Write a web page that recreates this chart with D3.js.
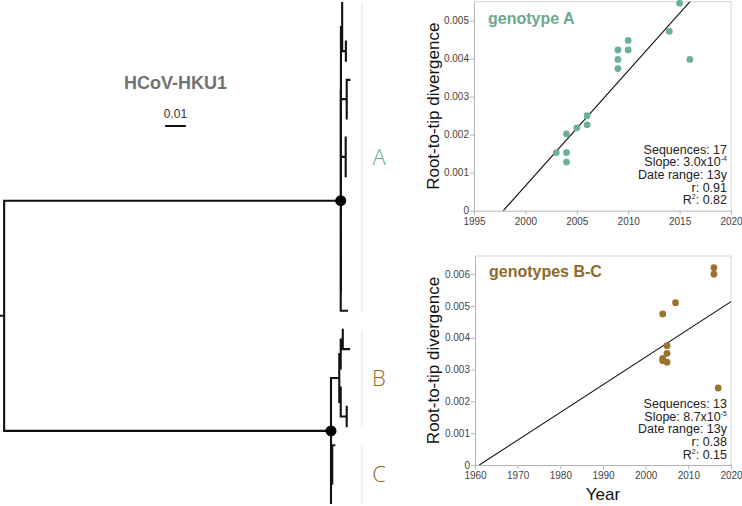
<!DOCTYPE html>
<html><head><meta charset="utf-8">
<script src="https://cdn.jsdelivr.net/npm/d3@7"></script>
<style>
html,body{margin:0;padding:0;background:#fff;}
svg{display:block;font-family:"Liberation Sans",Arial,sans-serif;}
</style></head>
<body>
<svg id="chart" width="742" height="506"></svg>
<script>
// ---------------- DATA ----------------
// Phylogeny (branch lengths in substitutions/site), Newick
const treeNewick =
 "((((t0:0,t1:0,(t2:0,t3:0):0.0018):0.0006,((t4:0.0013,t5:0,t6:0):0.0028,((t7:0,t8:0,t9:0):0.0023,((t10:0,t11:0,t12:0,t13:0,t14:0):0,t15:0):0):0):0):0.0001,t16:0.003):0.1626," +
 "((((t17:0,t18:0.003):0.001,t19:0):0.0007,(t20:0,(t21:0,t22:0):0.0029):0.0007):0.004,((t23:0.001,t24:0,t25:0):0.0006,t26:0):0):0.1579):0.002;";
const treeTitle = "HCoV-HKU1";
const scaleBarValue = 0.01;
const cladeNames = ["A", "B", "C"];
const cladeTipRanges = [[0, 16], [17, 22], [23, 26]];

// genotype A root-to-tip
const yearsA = [2003, 2004, 2004, 2004, 2005, 2006, 2006, 2009, 2009, 2009, 2010, 2010, 2014, 2015, 2016];
const divA   = [0.00153, 0.00202, 0.00153, 0.00128, 0.00218, 0.00250, 0.00226, 0.00423, 0.00398, 0.00374, 0.00448, 0.00423, 0.00472, 0.00546, 0.00398];
const regA = {xIntercept: 1997.85, slope: 3.03e-4};
const statsA = ["Sequences: 17", "Slope: 3.0x10|-4", "Date range: 13y", "r: 0.91", "R^2: 0.82"];
const xTicksA = [1995, 2000, 2005, 2010, 2015, 2020];
const yTicksA = [0, 0.001, 0.002, 0.003, 0.004, 0.005];

// genotypes B-C root-to-tip
const yearsBC = [2004, 2004, 2004, 2005, 2005, 2005, 2007, 2016, 2016, 2017];
const divBC   = [0.00475, 0.00335, 0.00328, 0.00375, 0.00351, 0.00323, 0.00510, 0.00620, 0.00600, 0.00242];
const regBC = {xIntercept: 1961, slope: 8.7e-5};
const statsBC = ["Sequences: 13", "Slope: 8.7x10|-5", "Date range: 13y", "r: 0.38", "R^2: 0.15"];
const xTicksBC = [1960, 1970, 1980, 1990, 2000, 2010, 2020];
const yTicksBC = [0, 0.001, 0.002, 0.003, 0.004, 0.005, 0.006];

// ---------------- STYLE ----------------
const colA = "#6cb09a", colAText = "#6aa990", colABar = "#e2eeea";
const colB = "#9a722c", colBText = "#8d6a2b", colBBar = "#efe9de";

const svg = d3.select("#chart");
svg.append("rect").attr("width", 742).attr("height", 506).attr("fill", "#fff");

// ---------------- TREE ----------------
function parseNewick(str) {
  const s = str.replace(/\s+/g, "");
  let i = 0;
  function node() {
    const n = {children: []};
    if (s[i] === "(") {
      i++;
      while (true) {
        n.children.push(node());
        if (s[i] === ",") { i++; continue; }
        break;
      }
      i++; // ')'
    }
    let name = "";
    while (i < s.length && !",):;".includes(s[i])) name += s[i++];
    n.name = name;
    if (s[i] === ":") {
      i++;
      let num = "";
      while (i < s.length && !",);".includes(s[i])) num += s[i++];
      n.length = +num;
    }
    if (!n.children.length) delete n.children;
    return n;
  }
  return node();
}
const root = d3.hierarchy(parseNewick(treeNewick));
root.eachBefore(d => d.div = (d.parent ? d.parent.div : 0) + (d.data.length || 0));
const leaves = root.leaves();
leaves.forEach((d, k) => d.idx = k);

const tx = d3.scaleLinear().domain([0, 0.17]).range([0, 351.9]);
const ty = d3.scaleLinear().domain([0, leaves.length - 1]).range([3, 503]);
root.eachAfter(d => {
  if (d.children) d.py = (d.children[0].py + d.children[d.children.length - 1].py) / 2;
  else d.py = ty(d.idx);
});

const gTree = svg.append("g");
let pathD = `M0,${root.py}H${tx(root.div)}`;
root.each(d => {
  if (d.parent) pathD += `M${tx(d.parent.div)},${d.py}H${tx(d.div)}`;
  if (d.children) pathD += `M${tx(d.div)},${d.children[0].py}V${d.children[d.children.length - 1].py}`;
});
gTree.append("path").attr("d", pathD).attr("fill", "none")
  .attr("stroke", "#111").attr("stroke-width", 2.1).attr("stroke-linecap", "square");
root.children.forEach(c => {
  gTree.append("circle").attr("cx", tx(c.div)).attr("cy", c.py).attr("r", 5.5).attr("fill", "#000");
});

gTree.append("text").attr("x", 175.5).attr("y", 89).attr("text-anchor", "middle")
  .attr("font-size", 18).attr("font-weight", "bold").attr("fill", "#727272").text(treeTitle);
gTree.append("text").attr("x", 175.5).attr("y", 118).attr("text-anchor", "middle")
  .attr("font-size", 12).attr("fill", "#333").text(String(scaleBarValue));
gTree.append("line").attr("x1", 175.5 - (tx(scaleBarValue) - tx(0)) / 2).attr("x2", 175.5 + (tx(scaleBarValue) - tx(0)) / 2)
  .attr("y1", 126).attr("y2", 126).attr("stroke", "#111").attr("stroke-width", 2);

// clade bars and letters
cladeNames.forEach((nm, k) => {
  const [a, b] = cladeTipRanges[k];
  const y0 = ty(a), y1 = ty(b);
  const isA = k === 0;
  gTree.append("line").attr("x1", 362).attr("x2", 362).attr("y1", y0).attr("y2", y1)
    .attr("stroke", isA ? colABar : colBBar).attr("stroke-width", 1.5);
  gTree.append("text").attr("x", 379).attr("y", (y0 + y1) / 2 + 8).attr("text-anchor", "middle")
    .attr("font-family", "'Open Sans',sans-serif").attr("font-weight", 300)
    .attr("font-size", 22).attr("fill", isA ? colAText : colBText).text(nm);
});

// ---------------- SCATTER PANELS ----------------
const fmtY = d => d === 0 ? "0" : d3.format(".3f")(d);

function panel(o) {
  const g = svg.append("g");
  const x = d3.scaleLinear().domain(o.xDomain).range([o.left, o.right]);
  const y = d3.scaleLinear().domain(o.yDomain).range([o.bottom, o.top]);
  // frame
  g.append("path").attr("d", `M${o.left},${o.top}H${o.right}V${o.bottom}`)
    .attr("fill", "none").attr("stroke", "#d4d4d4").attr("stroke-width", 1);
  const ax = g.append("g").attr("transform", `translate(0,${o.bottom})`)
    .call(d3.axisBottom(x).tickValues(o.xTicks).tickFormat(d3.format("d")).tickSize(4).tickSizeOuter(0));
  const ay = g.append("g").attr("transform", `translate(${o.left},0)`)
    .call(d3.axisLeft(y).tickValues(o.yTicks).tickFormat(fmtY).tickSize(4).tickSizeOuter(0));
  [ax, ay].forEach(a => {
    a.select(".domain").attr("stroke", "#b4b4b4");
    a.selectAll(".tick line").attr("stroke", "#b4b4b4");
    a.selectAll(".tick text").attr("fill", "#444").attr("font-size", 10)
      .attr("font-family", "'Liberation Sans',Arial,sans-serif");
  });
  ay.selectAll(".tick text").attr("x", -5);
  ax.selectAll(".tick text").attr("y", 7);

  // regression line
  const clipId = "clip" + o.id;
  g.append("clipPath").attr("id", clipId).append("rect")
    .attr("x", o.left).attr("y", o.top).attr("width", o.right - o.left).attr("height", o.bottom - o.top);
  const xEnd = o.xDomain[1];
  g.append("line").attr("clip-path", `url(#${clipId})`)
    .attr("x1", x(o.reg.xIntercept)).attr("y1", y(0))
    .attr("x2", x(xEnd)).attr("y2", y((xEnd - o.reg.xIntercept) * o.reg.slope))
    .attr("stroke", "#111").attr("stroke-width", 1.1);

  // points
  g.selectAll("circle.pt").data(o.years.map((yr, i) => [yr, o.vals[i]])).join("circle")
    .attr("class", "pt").attr("cx", d => x(d[0])).attr("cy", d => y(d[1]))
    .attr("r", 3.4).attr("fill", o.color);

  // title
  g.append("text").attr("x", o.left + 14).attr("y", o.top + o.titleDy)
    .attr("font-size", 16).attr("font-weight", "bold").attr("fill", o.titleColor).text(o.title);

  // y label
  g.append("text").attr("transform", `translate(439,${(o.top + o.bottom) / 2}) rotate(-90)`)
    .attr("text-anchor", "middle").attr("font-size", 17).attr("fill", "#111").text("Root-to-tip divergence");

  // stats (one text element per line)
  const n = o.stats.length;
  o.stats.forEach((s, i) => {
    const t = g.append("text").attr("text-anchor", "end").attr("font-size", 12.5).attr("fill", "#222")
      .attr("x", o.right - 4).attr("y", o.bottom - 6.5 - (n - 1 - i) * 12.6);
    if (s.includes("|")) {
      const [a, b] = s.split("|");
      t.append("tspan").text(a);
      t.append("tspan").attr("dy", -5).attr("font-size", 7).text(b);
    } else if (s.includes("^")) {
      const [a, b] = s.split("^");
      t.append("tspan").text(a);
      t.append("tspan").attr("dy", -5).attr("font-size", 7).text(b[0]);
      t.append("tspan").attr("dy", 5).text(b.slice(1));
    } else t.text(s);
  });
  return g;
}

panel({id: "A", left: 474, right: 731, top: 1.7, bottom: 210.7,
  xDomain: [1995, 2020], yDomain: [0, 0.0055], xTicks: xTicksA, yTicks: yTicksA,
  years: yearsA, vals: divA, reg: regA, stats: statsA, color: colA,
  title: "genotype A", titleColor: colAText, titleDy: 22});

panel({id: "BC", left: 475, right: 731, top: 256, bottom: 465,
  xDomain: [1960, 2020], yDomain: [0, 0.00657], xTicks: xTicksBC, yTicks: yTicksBC,
  years: yearsBC, vals: divBC, reg: regBC, stats: statsBC, color: colB,
  title: "genotypes B-C", titleColor: colBText, titleDy: 21});

svg.append("text").attr("x", 603).attr("y", 500).attr("text-anchor", "middle")
  .attr("font-size", 17).attr("fill", "#111").text("Year");
</script>
</body></html>
